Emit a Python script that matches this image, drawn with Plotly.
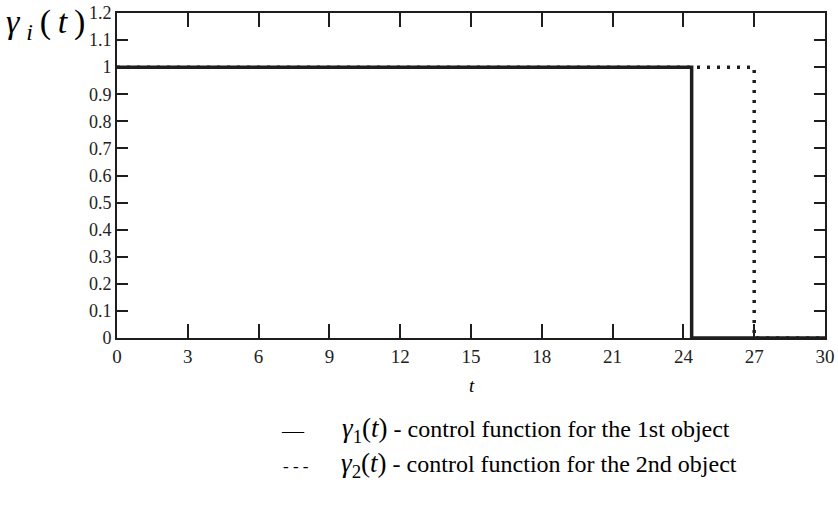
import plotly.graph_objects as go

# Data
t_gamma1 = [0, 24.35, 24.35, 30]
v_gamma1 = [1, 1, 0, 0]
t_gamma2 = [0, 27, 27, 30]
v_gamma2 = [1, 1, 0, 0]

x_ticks = [0, 3, 6, 9, 12, 15, 18, 21, 24, 27, 30]
y_ticks = [0, 0.1, 0.2, 0.3, 0.4, 0.5, 0.6, 0.7, 0.8, 0.9, 1, 1.1, 1.2]
y_tick_text = ["0", "0.1", "0.2", "0.3", "0.4", "0.5", "0.6", "0.7", "0.8", "0.9", "1", "1.1", "1.2"]

legend_1 = "<i>γ</i><sub>1</sub>(<i>t</i>)<span style='font-size:24px'> - control function for the 1st object</span>"
legend_2 = "<i>γ</i><sub>2</sub>(<i>t</i>)<span style='font-size:24px'> - control function for the 2nd object</span>"

font_family = "Liberation Serif"
ink = "#1e1e1e"

W, H = 838, 515
PX0, PX1, PY0, PY1 = 117, 825, 13, 338
L, T, R, B = PX0, PY0, W - PX1, H - PY1
pw, ph = PX1 - PX0, PY1 - PY0

fig = go.Figure()
fig.add_trace(go.Scatter(x=t_gamma2, y=v_gamma2, mode="lines",
                         line=dict(color=ink, width=3.5, dash="3px,7px"), showlegend=False,
                         hoverinfo="skip"))
fig.add_trace(go.Scatter(x=t_gamma1, y=v_gamma1, mode="lines",
                         line=dict(color=ink, width=3.5), showlegend=False, hoverinfo="skip"))

fig.update_xaxes(range=[0, 30], tickvals=x_ticks, ticks="inside", ticklen=14, tickwidth=2,
                 tickcolor=ink, showline=True, linecolor=ink, linewidth=2, mirror="ticks",
                 showgrid=False, zeroline=False, automargin=False, ticklabeloverflow="allow",
                 tickfont=dict(family=font_family, size=19, color="#222"))
fig.update_yaxes(range=[0, 1.2], tickvals=y_ticks, ticktext=y_tick_text, ticks="inside",
                 ticklen=11, tickwidth=2, tickcolor=ink, showline=True, linecolor=ink,
                 linewidth=2, mirror="ticks", showgrid=False, zeroline=False, automargin=False,
                 ticklabeloverflow="allow",
                 tickfont=dict(family=font_family, size=18, color="#222"))

# annotations given in screenshot pixel positions (centre of the text)
annotations = [
    dict(text="<i>γ</i>\u2009<sub><i>i</i></sub>\u2009(\u2009<i>t</i>\u2009)", x=45, y=24,
         font=dict(family=font_family, size=34, color="black")),
    dict(text="<i>t</i>", x=472, y=385,
         font=dict(family=font_family, size=19, color="black")),
    dict(text="—", x=293, y=430,
         font=dict(family=font_family, size=22, color="black")),
    dict(text="- - -", x=296, y=466,
         font=dict(family=font_family, size=17, color="black")),
    dict(text=legend_1, x=536, y=430,
         font=dict(family=font_family, size=27, color="black")),
    dict(text=legend_2, x=539, y=465,
         font=dict(family=font_family, size=27, color="black")),
]
for a in annotations:
    a["showarrow"] = False
    a["xref"] = "paper"
    a["yref"] = "paper"
    a["xanchor"] = "center"
    a["yanchor"] = "middle"
    a["x"] = (a["x"] - PX0) / pw
    a["y"] = (PY1 - a["y"]) / ph

fig.update_layout(width=W, height=H, margin=dict(l=L, r=R, t=T, b=B, autoexpand=False),
                  plot_bgcolor="white", paper_bgcolor="white", annotations=annotations,
                  hovermode=False)

fig.write_html("out.html", config={"displayModeBar": False, "staticPlot": True},
               post_script="document.body.style.margin='0';")
